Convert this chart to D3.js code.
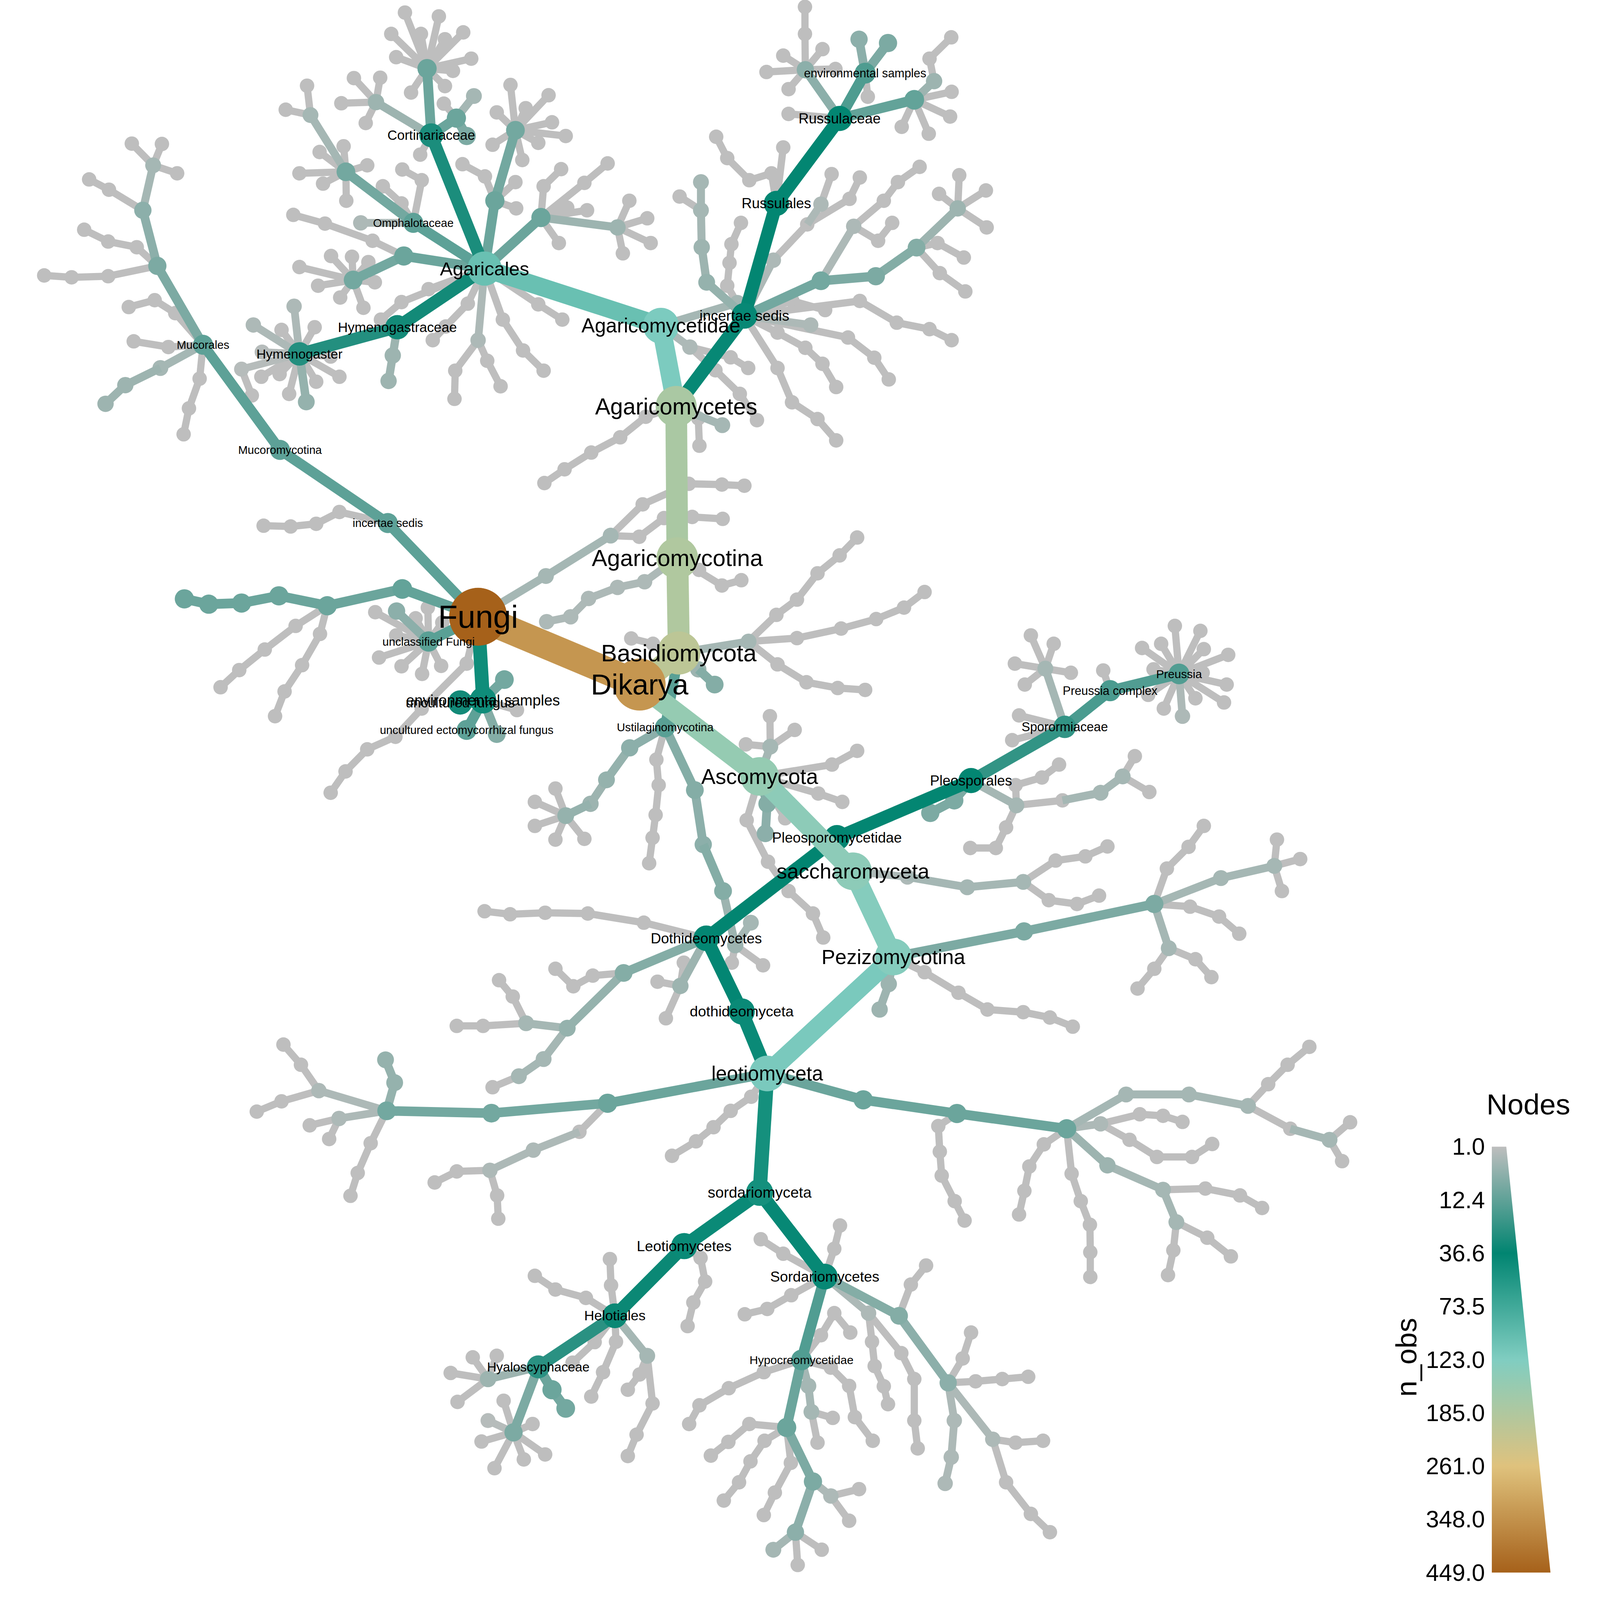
<!DOCTYPE html>
<html>
<head>
<meta charset="utf-8">
<script src="https://cdn.jsdelivr.net/npm/d3@7"></script>
<style>
  html, body { margin: 0; padding: 0; background: #ffffff; overflow: hidden; }
  svg { display: block; width: 100vw; height: 100vh; }
  text { font-family: "Liberation Sans", Arial, sans-serif; }
</style>
</head>
<body>
<svg id="chart"></svg>
<script>
// rows: [id, parent, layoutX, layoutY, n_obs, label]
var coreNodes = [
  ["fungi", null, 1255, 1619, 449, "Fungi"],
  ["dika", "fungi", 1679, 1797, 340, "Dikarya"],
  ["basi", "dika", 1782, 1714, 205, "Basidiomycota"],
  ["agmc", "basi", 1778, 1465, 185, "Agaricomycotina"],
  ["agmy", "agmc", 1775, 1067, 178, "Agaricomycetes"],
  ["agdae", "agmy", 1735, 855, 120, "Agaricomycetidae"],
  ["agal", "agdae", 1272, 705, 105, "Agaricales"],
  ["ais", "agmy", 1954, 829, 40, "incertae sedis"],
  ["russ", "ais", 2038, 534, 36, "Russulales"],
  ["rusc", "russ", 2204, 311, 36, "Russulaceae"],
  ["renv", "rusc", 2271, 192, 17, "environmental samples"],
  ["usti", "basi", 1746, 1909, 14, "Ustilaginomycotina"],
  ["asco", "dika", 1994, 2038, 150, "Ascomycota"],
  ["sacc", "asco", 2239, 2287, 140, "saccharomyceta"],
  ["pezi", "sacc", 2345, 2512, 130, "Pezizomycotina"],
  ["leot", "pezi", 2014, 2818, 118, "leotiomyceta"],
  ["dothm", "leot", 1947, 2655, 42, "dothideomyceta"],
  ["doth", "dothm", 1854, 2463, 38, "Dothideomycetes"],
  ["pleom", "doth", 2197, 2199, 37, "Pleosporomycetidae"],
  ["pleo", "pleom", 2549, 2049, 36, "Pleosporales"],
  ["spor", "pleo", 2795, 1908, 24, "Sporormiaceae"],
  ["prec", "spor", 2914, 1813, 18, "Preussia complex"],
  ["preu", "prec", 3095, 1769, 16, "Preussia"],
  ["sord", "leot", 1994, 3130, 48, "sordariomyceta"],
  ["leoc", "sord", 1796, 3271, 42, "Leotiomycetes"],
  ["helo", "leoc", 1614, 3454, 34, "Helotiales"],
  ["hyal", "helo", 1413, 3588, 26, "Hyaloscyphaceae"],
  ["sorc", "sord", 2165, 3351, 40, "Sordariomycetes"],
  ["hypo", "sorc", 2104, 3570, 16, "Hypocreomycetidae"],
  ["mis", "fungi", 1018, 1373, 13, "incertae sedis"],
  ["mucm", "mis", 735, 1181, 13, "Mucoromycotina"],
  ["muco", "mucm", 533, 905, 13, "Mucorales"],
  ["ucf", "fungi", 1125, 1684, 14, "unclassified Fungi"],
  ["fenv", "fungi", 1268, 1838, 45, "environmental samples"],
  ["uf", "fenv", 1208, 1844, 32, "uncultured fungus"],
  ["uef", "fenv", 1225, 1916, 13, "uncultured ectomycorrhizal fungus"],
  ["cort", "agal", 1132, 355, 30, "Cortinariaceae"],
  ["omph", "agal", 1085, 585, 13, "Omphalotaceae"],
  ["hyme", "agal", 1043, 859, 32, "Hymenogastraceae"],
  ["hg", "hyme", 786, 929, 28, "Hymenogaster"]
];

var agaricalesNodes = [
  ["c1", "cort", 1121, 180, 11],
  ["c1a", "c1", 1063, 33, 1], ["c1b", "c1", 1152, 43, 1], ["c1c", "c1", 1027, 89, 1],
  ["c1d", "c1", 1105, 89, 1], ["c1e", "c1", 1168, 103, 1], ["c1f", "c1", 1216, 85, 1],
  ["c1g", "c1", 1040, 150, 1], ["c1h", "c1", 1237, 154, 1], ["c1i", "c1", 1189, 186, 1],
  ["c1j", "c1", 1079, 243, 1], ["c1k", "c1", 1168, 226, 1],
  ["c2", "cort", 1198, 310, 11], ["c2a", "c2", 1244, 252, 4], ["c2b", "c2", 1225, 357, 9], ["c2c", "c2", 1165, 272, 1],
  ["c3", "cort", 987, 268, 5], ["c3a", "c3", 929, 205, 1], ["c3b", "c3", 998, 204, 1],
  ["c3c", "c3", 896, 271, 1], ["c3d", "c3", 960, 323, 1],
  ["c4", "cort", 1103, 406, 1],
  ["o1", "omph", 908, 451, 10], ["o1a", "o1", 902, 384, 1], ["o1b", "o1", 839, 399, 1],
  ["o1c", "o1", 786, 455, 1], ["o1d", "o1", 848, 482, 1], ["o1e", "o1", 909, 527, 1],
  ["o1f", "o1", 964, 434, 1], ["o1g", "o1", 815, 302, 4], ["o1h", "o1g", 806, 225, 1], ["o1i", "o1g", 750, 288, 1],
  ["o2", "omph", 947, 585, 3], ["o3", "omph", 1054, 534, 1], ["o3a", "o3", 1005, 489, 1],
  ["o4", "omph", 1107, 473, 1], ["o4a", "o4", 1056, 445, 1],
  ["a3", "agal", 1060, 672, 11], ["a3h", "a3", 927, 735, 10],
  ["a3h1", "a3h", 786, 701, 1], ["a3h2", "a3h", 835, 750, 1], ["a3h3", "a3h", 893, 781, 1], ["a3h4", "a3h", 954, 808, 1],
  ["a3h5", "a3h", 984, 741, 1], ["a3h6", "a3h", 967, 688, 1], ["a3h7", "a3h", 924, 674, 1], ["a3h8", "a3h", 869, 672, 1],
  ["a3i", "a3", 978, 632, 1], ["a3j", "a3i", 853, 587, 1], ["a3k", "a3j", 770, 564, 1],
  ["hg1", "hg", 772, 804, 3], ["hg2", "hg", 665, 853, 3], ["hg3", "hg", 739, 866, 1], ["hg4", "hg", 826, 859, 1],
  ["hg5", "hg", 688, 924, 2], ["hg6", "hg", 634, 969, 2], ["hg7", "hg6", 661, 1038, 1], ["hg8", "hg", 686, 989, 1],
  ["hg9", "hg", 734, 982, 1], ["hg10", "hg", 759, 1034, 1], ["hg11", "hg", 804, 1055, 6], ["hg12", "hg", 830, 1002, 1],
  ["hg13", "hg", 891, 989, 1], ["hg14", "hg", 868, 936, 1],
  ["h2", "hyme", 1031, 933, 5], ["h2a", "h2", 1020, 1000, 5],
  ["ag4", "agal", 1054, 793, 1], ["ag4a", "ag4", 1000, 839, 1],
  ["ag5", "agal", 1255, 893, 3], ["ag5a", "ag5", 1195, 973, 1], ["ag5b", "ag5a", 1193, 1047, 1],
  ["ag5c", "ag5", 1279, 947, 1], ["ag5d", "ag5c", 1314, 1014, 1],
  ["ag6", "agal", 1228, 797, 1], ["ag6a", "ag6", 1170, 857, 1], ["ag6b", "ag6a", 1136, 893, 1],
  ["ag7", "agal", 1320, 839, 1], ["ag7a", "ag7", 1373, 920, 1], ["ag7b", "ag7a", 1427, 973, 1],
  ["ag8", "agal", 1125, 759, 1],
  ["ag9", "agal", 1299, 527, 11], ["ag9h", "ag9", 1353, 342, 10],
  ["ag9h1", "ag9h", 1340, 223, 1], ["ag9h2", "ag9h", 1304, 295, 1], ["ag9h3", "ag9h", 1293, 380, 1],
  ["ag9h4", "ag9h", 1371, 420, 1], ["ag9h5", "ag9h", 1380, 284, 1], ["ag9h6", "ag9h", 1440, 250, 1],
  ["ag9h7", "ag9h", 1449, 321, 1], ["ag9h8", "ag9h", 1485, 357, 1], ["ag9h9", "ag9h", 1413, 375, 1],
  ["ag9a", "ag9", 1353, 478, 1], ["ag9b", "ag9", 1355, 547, 1], ["ag9c", "ag9", 1273, 463, 1], ["ag9d", "ag9c", 1214, 431, 1],
  ["ag10", "agal", 1420, 571, 11], ["ag10h", "ag10", 1621, 597, 5],
  ["ag10h1", "ag10h", 1652, 527, 1], ["ag10h2", "ag10h", 1699, 573, 1], ["ag10h3", "ag10h", 1708, 638, 1], ["ag10h4", "ag10h", 1635, 665, 1],
  ["ag10a", "ag10", 1427, 489, 1], ["ag10b", "ag10a", 1473, 444, 1], ["ag10c", "ag10", 1534, 480, 1],
  ["ag10d", "ag10c", 1595, 429, 1], ["ag10e", "ag10", 1489, 545, 1], ["ag10f", "ag10", 1541, 552, 1], ["ag10g", "ag10", 1467, 638, 1],
  ["ag11", "agal", 1413, 799, 1], ["ag11a", "ag11", 1476, 839, 1]
];

var agaricomycetesNodes = [
  ["d1", "agdae", 1936, 795, 4],
  ["d2", "agdae", 1811, 911, 3], ["d2a", "d2", 1878, 972, 1], ["d2b", "d2a", 1942, 1034, 1], ["d2c", "d2b", 1987, 1103, 1],
  ["d2d", "d2", 1918, 938, 1], ["d2e", "d2d", 1964, 966, 1],
  ["m1", "agmy", 1833, 1098, 1], ["m1a", "m1", 1836, 1170, 1], ["m2", "agmy", 1896, 1116, 4],
  ["m3", "agmy", 1695, 1094, 1], ["m3a", "m3", 1628, 1148, 1], ["m3b", "m3a", 1552, 1188, 1],
  ["m3c", "m3b", 1482, 1232, 1], ["m3d", "m3c", 1429, 1268, 1],
  ["k1", "agmc", 1692, 1527, 3], ["k1a", "k1", 1621, 1542, 3], ["k1b", "k1a", 1545, 1571, 3],
  ["k1c", "k1b", 1498, 1619, 3], ["k1d", "k1c", 1435, 1632, 3],
  ["k2", "agmc", 1835, 1496, 1], ["k3", "agmc", 1895, 1537, 1], ["k3a", "k3", 1946, 1523, 1],
  ["i1", "ais", 1855, 741, 6], ["i1a", "i1", 1842, 649, 5], ["i1b", "i1a", 1840, 552, 4],
  ["i1c", "i1b", 1840, 478, 4], ["i1d", "i1b", 1784, 516, 1],
  ["i2", "ais", 1909, 750, 1], ["i2a", "i2", 1915, 690, 1], ["i2b", "i2a", 1920, 641, 1], ["i2c", "i2b", 1945, 585, 1],
  ["i3", "ais", 2030, 683, 3], ["i3a", "i3", 2119, 589, 1], ["i3b", "i3a", 2230, 522, 1], ["i3c", "i3b", 2257, 466, 1],
  ["i3d", "i3a", 2155, 536, 3], ["i3e", "i3d", 2183, 457, 1],
  ["i4", "ais", 2155, 737, 10], ["i4a", "i4", 2299, 725, 9], ["i4b", "i4a", 2406, 650, 8], ["i4c", "i4b", 2514, 547, 5],
  ["i4c1", "i4c", 2518, 460, 1], ["i4c2", "i4c", 2465, 509, 1], ["i4c3", "i4c", 2588, 500, 1], ["i4c4", "i4c", 2590, 597, 1],
  ["i4d", "i4b", 2461, 638, 1], ["i4d1", "i4d", 2530, 676, 1], ["i4e", "i4b", 2467, 717, 1], ["i4e1", "i4e", 2534, 765, 1],
  ["i4f", "i4", 2241, 594, 3], ["i4f1", "i4f", 2320, 527, 1], ["i4f2", "i4f1", 2357, 478, 1], ["i4f3", "i4f2", 2414, 438, 1],
  ["i4g", "i4f", 2305, 632, 1], ["i4g1", "i4g", 2342, 585, 1],
  ["i5", "ais", 2080, 790, 1], ["i5a", "i5", 2166, 814, 1], ["i6", "ais", 2128, 853, 3],
  ["i7", "ais", 2257, 790, 1], ["i7a", "i7", 2354, 847, 1], ["i7b", "i7a", 2440, 864, 1], ["i7c", "i7b", 2498, 893, 1],
  ["i8", "ais", 2226, 886, 1], ["i8a", "i8", 2295, 939, 1], ["i8b", "i8a", 2333, 996, 1],
  ["i9", "ais", 2041, 873, 1], ["i9a", "i9", 2114, 913, 1], ["i9b", "i9a", 2159, 955, 1], ["i9c", "i9b", 2195, 1016, 1],
  ["i10", "ais", 2041, 966, 1], ["i10a", "i10", 2079, 1056, 1], ["i10b", "i10a", 2146, 1100, 1], ["i10c", "i10b", 2195, 1156, 1],
  ["r1", "russ", 2025, 455, 1], ["r1a", "r1", 1967, 473, 1], ["r1b", "r1a", 1909, 415, 1], ["r1c", "r1b", 1880, 359, 1],
  ["r2", "russ", 2056, 387, 1],
  ["r3", "rusc", 2114, 183, 7], ["r3a", "r3", 2113, 89, 1], ["r3b", "r3a", 2113, 18, 1], ["r3c", "r3", 2056, 146, 1],
  ["r3d", "r3", 2159, 129, 1], ["r3e", "r3", 2012, 189, 1], ["r3f", "r3", 2070, 234, 1], ["r3g", "r3", 2193, 181, 1],
  ["r4", "rusc", 2400, 262, 12], ["r4a", "r4", 2452, 213, 5], ["r4b", "r4a", 2440, 154, 1], ["r4c", "r4b", 2497, 98, 1],
  ["r4d", "r4", 2498, 241, 1], ["r4e", "r4", 2494, 306, 1], ["r4f", "r4", 2438, 351, 1], ["r4g", "r4", 2367, 333, 1],
  ["r5", "rusc", 2070, 299, 1],
  ["r6", "renv", 2255, 103, 7], ["r7", "renv", 2331, 113, 9], ["r8", "renv", 2278, 254, 1]
];

var basalFungiNodes = [
  ["f1", "mis", 891, 1344, 1], ["f1a", "f1", 830, 1375, 1], ["f1b", "f1a", 763, 1382, 1], ["f1c", "f1b", 692, 1380, 1],
  ["mu1", "muco", 413, 698, 9], ["mu1a", "mu1", 375, 552, 7], ["mu1b", "mu1a", 402, 434, 4],
  ["mu1c", "mu1b", 346, 377, 1], ["mu1d", "mu1b", 425, 378, 1], ["mu1e", "mu1b", 465, 455, 1],
  ["mu1f", "mu1a", 286, 498, 1], ["mu1g", "mu1f", 234, 471, 1],
  ["mu1h", "mu1", 359, 649, 1], ["mu1i", "mu1h", 284, 634, 1], ["mu1j", "mu1i", 221, 603, 1],
  ["mu1k", "mu1", 284, 725, 1], ["mu1l", "mu1k", 188, 728, 1], ["mu1m", "mu1l", 116, 723, 1],
  ["mu2", "muco", 421, 966, 4], ["mu2a", "mu2", 329, 1011, 5], ["mu2b", "mu2a", 277, 1060, 5],
  ["mu3", "muco", 442, 911, 1], ["mu3a", "mu3", 351, 896, 1],
  ["mu4", "muco", 460, 822, 1], ["mu4a", "mu4", 406, 788, 1], ["mu4b", "mu4a", 338, 806, 1],
  ["mu5", "muco", 524, 994, 1], ["mu5a", "mu5", 496, 1072, 1], ["mu5b", "mu5a", 482, 1140, 1],
  ["fl1", "fungi", 1056, 1546, 12], ["fl2", "fl1", 859, 1590, 11], ["fl3", "fl2", 732, 1564, 11],
  ["fl4", "fl3", 634, 1583, 11], ["fl5", "fl4", 548, 1586, 11], ["fl6", "fl5", 484, 1572, 11],
  ["fl7", "fl2", 776, 1643, 1], ["fl7a", "fl7", 695, 1705, 1], ["fl7b", "fl7a", 628, 1759, 1], ["fl7c", "fl7b", 579, 1804, 1],
  ["fl8", "fl2", 840, 1664, 1], ["fl8a", "fl8", 793, 1746, 1], ["fl8b", "fl8a", 747, 1815, 1], ["fl8c", "fl8b", 722, 1880, 1],
  ["u1", "ucf", 1041, 1604, 7], ["u2", "ucf", 985, 1607, 1], ["u3", "ucf", 1091, 1623, 1], ["u4", "ucf", 1123, 1595, 1],
  ["u5", "ucf", 1161, 1634, 1], ["u6", "ucf", 995, 1726, 1], ["u7", "ucf", 1054, 1749, 1], ["u8", "ucf", 1108, 1769, 1],
  ["u9", "ucf", 1158, 1748, 1], ["u10", "ucf", 1040, 1668, 1],
  ["e1", "fenv", 1304, 1927, 8], ["e2", "fenv", 1324, 1784, 10], ["e3", "fenv", 1357, 1864, 1],
  ["fd1", "fungi", 1225, 1742, 1], ["fd2", "fd1", 1107, 1860, 1], ["fd3", "fd2", 1038, 1934, 1],
  ["fd4", "fd3", 964, 1967, 1], ["fd5", "fd4", 907, 2025, 1], ["fd6", "fd5", 868, 2081, 1],
  ["fu1", "fungi", 1433, 1512, 4], ["fu2", "fu1", 1603, 1406, 4], ["fu3", "fu2", 1687, 1324, 1],
  ["fu4", "fu3", 1808, 1270, 1], ["fu5", "fu4", 1895, 1272, 1], ["fu6", "fu5", 1954, 1275, 1],
  ["fu7", "fu2", 1678, 1409, 1], ["fu8", "fu7", 1743, 1360, 1], ["fu9", "fu8", 1817, 1357, 1], ["fu10", "fu9", 1897, 1362, 1]
];

var basidioNodes = [
  ["b1", "basi", 1965, 1684, 4], ["b1a", "b1", 2092, 1675, 1], ["b1b", "b1a", 2208, 1650, 1], ["b1c", "b1b", 2300, 1625, 1],
  ["b1d", "b1c", 2373, 1595, 1], ["b1e", "b1d", 2427, 1554, 1],
  ["b1f", "b1", 2038, 1614, 1], ["b1g", "b1f", 2092, 1574, 1], ["b1h", "b1g", 2146, 1505, 1], ["b1i", "b1h", 2204, 1458, 1], ["b1j", "b1i", 2250, 1411, 1],
  ["b1k", "b1", 2041, 1744, 1], ["b1l", "b1k", 2117, 1791, 1], ["b1m", "b1l", 2199, 1806, 1], ["b1n", "b1m", 2271, 1811, 1],
  ["b2", "basi", 1833, 1757, 5], ["b2a", "b2", 1876, 1797, 8],
  ["b3", "basi", 1714, 1690, 1], ["b3a", "b3", 1657, 1676, 1],
  ["us1", "usti", 1653, 1963, 7], ["us2", "us1", 1592, 2047, 6], ["us3", "us2", 1550, 2110, 5], ["us4", "us3", 1485, 2141, 6],
  ["us4a", "us4", 1458, 2070, 1], ["us4b", "us4", 1404, 2105, 1], ["us4c", "us4", 1404, 2168, 1],
  ["us4d", "us4", 1458, 2204, 1], ["us4e", "us4", 1534, 2202, 1],
  ["us5", "usti", 1723, 1994, 1], ["us5a", "us5", 1729, 2061, 1], ["us5b", "us5a", 1721, 2139, 1],
  ["us5c", "us5b", 1713, 2199, 1], ["us5d", "us5c", 1704, 2266, 1],
  ["us6", "usti", 1824, 2074, 8], ["us6a", "us6", 1846, 2217, 7], ["us6b", "us6a", 1898, 2339, 8], ["us6c", "us6b", 1930, 2481, 5],
  ["us6d", "us6c", 1921, 2527, 1], ["us6e", "us6c", 1971, 2422, 4], ["us6f", "us6c", 2003, 2534, 1]
];

var ascoNodes = [
  ["as1", "asco", 2022, 1960, 4], ["as1a", "as1", 2021, 1880, 1], ["as1b", "as1", 2086, 1916, 1], ["as1c", "as1", 1958, 1954, 1],
  ["as2", "asco", 2014, 2110, 8], ["as2a", "as2", 2009, 2188, 7], ["as3", "asco", 2061, 2148, 1],
  ["as4", "asco", 2184, 2007, 1], ["as4a", "as4", 2250, 1971, 1], ["as5", "asco", 2148, 2083, 1], ["as5a", "as5", 2211, 2105, 1],
  ["as6", "asco", 1960, 2153, 1], ["as6a", "as6", 2016, 2262, 1], ["as6b", "as6a", 2070, 2339, 1],
  ["as6c", "as6b", 2134, 2398, 1], ["as6d", "as6c", 2161, 2461, 1],
  ["sa1", "sacc", 2382, 2302, 3], ["sa2", "sa1", 2539, 2329, 4], ["sa3", "sa2", 2686, 2315, 4],
  ["sa4", "sa3", 2771, 2259, 1], ["sa5", "sa4", 2849, 2248, 1], ["sa6", "sa5", 2907, 2222, 1],
  ["sa7", "sa3", 2753, 2363, 1], ["sa8", "sa7", 2827, 2373, 1], ["sa9", "sa8", 2885, 2351, 1],
  ["pl1", "pleo", 2668, 2114, 4], ["pl1a", "pl1", 2641, 2172, 1], ["pl1b", "pl1a", 2614, 2226, 1], ["pl1c", "pl1b", 2547, 2226, 1],
  ["pl1d", "pl1", 2666, 2061, 1], ["pl1e", "pl1d", 2735, 2041, 1], ["pl1f", "pl1e", 2780, 2007, 1],
  ["pl1g", "pl1", 2789, 2101, 1], ["pl1h", "pl1g", 2889, 2081, 4], ["pl1i", "pl1h", 2947, 2038, 4],
  ["pl1j", "pl1i", 2979, 1985, 1], ["pl1k", "pl1i", 3017, 2079, 1],
  ["pl2", "pleo", 2505, 2101, 9], ["pl2a", "pl2", 2442, 2134, 9],
  ["sp1", "spor", 2744, 1755, 4], ["sp1a", "sp1", 2706, 1668, 1], ["sp1b", "sp1", 2766, 1690, 1],
  ["sp1c", "sp1", 2664, 1742, 1], ["sp1d", "sp1", 2690, 1797, 1], ["sp1e", "sp1", 2811, 1766, 1],
  ["sp2", "spor", 2675, 1878, 1], ["sp3", "spor", 2657, 1943, 1],
  ["pc1", "prec", 2896, 1760, 1],
  ["pr1", "preu", 3084, 1643, 1], ["pr2", "preu", 3151, 1656, 1], ["pr3", "preu", 3048, 1690, 1], ["pr4", "preu", 2998, 1701, 1],
  ["pr5", "preu", 3160, 1704, 1], ["pr6", "preu", 3224, 1719, 1], ["pr7", "preu", 3028, 1757, 1], ["pr8", "preu", 3220, 1797, 1],
  ["pr9", "preu", 3213, 1844, 1], ["pr10", "preu", 3138, 1833, 1], ["pr11", "preu", 3055, 1860, 1], ["pr12", "preu", 3104, 1880, 3],
  ["pr13", "preu", 3014, 1824, 1], ["pr14", "preu", 3157, 1766, 1],
  ["pz1", "pezi", 2688, 2445, 9], ["pz2", "pz1", 3030, 2373, 9],
  ["pz2a", "pz2", 3063, 2280, 1], ["pz2b", "pz2a", 3120, 2223, 1], ["pz2c", "pz2b", 3160, 2168, 1],
  ["pz3", "pz2", 3205, 2305, 4], ["pz3a", "pz3", 3345, 2273, 4], ["pz3b", "pz3a", 3352, 2204, 1],
  ["pz3c", "pz3a", 3413, 2255, 1], ["pz3d", "pz3a", 3365, 2339, 1],
  ["pz4", "pz2", 3124, 2380, 1], ["pz4a", "pz4", 3200, 2406, 1], ["pz4b", "pz4a", 3253, 2451, 1],
  ["pz5", "pz2", 3068, 2489, 4], ["pz5a", "pz5", 3138, 2518, 1], ["pz5b", "pz5a", 3180, 2565, 1],
  ["pz5c", "pz5", 3030, 2543, 1], ["pz5d", "pz5c", 2986, 2595, 1],
  ["pz6", "pezi", 2427, 2552, 1], ["pz6a", "pz6", 2516, 2606, 1], ["pz6b", "pz6a", 2592, 2650, 1],
  ["pz6c", "pz6b", 2686, 2657, 1], ["pz6d", "pz6c", 2756, 2671, 1], ["pz6e", "pz6d", 2816, 2695, 1],
  ["pz7", "pezi", 2333, 2583, 5], ["pz7a", "pz7", 2309, 2650, 5]
];

var dothideoNodes = [
  ["do1", "doth", 1690, 2422, 1], ["do1a", "do1", 1543, 2398, 1], ["do1b", "do1a", 1431, 2396, 1],
  ["do1c", "do1b", 1339, 2400, 1], ["do1d", "do1c", 1272, 2392, 1],
  ["do2", "doth", 1637, 2554, 8], ["do2a", "do2", 1489, 2699, 6], ["do2b", "do2a", 1381, 2686, 4],
  ["do2c", "do2b", 1268, 2693, 1], ["do2d", "do2c", 1199, 2693, 1], ["do2e", "do2b", 1346, 2616, 1], ["do2f", "do2e", 1310, 2573, 1],
  ["do2g", "do2a", 1427, 2780, 4], ["do2h", "do2g", 1362, 2825, 4], ["do2i", "do2h", 1293, 2854, 1],
  ["do2j", "do2", 1556, 2561, 1], ["do2k", "do2j", 1505, 2589, 1], ["do2l", "do2k", 1458, 2543, 1],
  ["do3", "doth", 1786, 2588, 5], ["do3a", "do3", 1726, 2577, 1], ["do3b", "do3", 1748, 2673, 1], ["do3c", "do3", 1795, 2527, 1]
];

var leotioNodes = [
  ["lr1", "leot", 2266, 2887, 11], ["lr2", "lr1", 2512, 2923, 11], ["lr3", "lr2", 2800, 2963, 11],
  ["lr2a", "lr2", 2463, 2956, 1], ["lr2b", "lr2a", 2467, 3023, 1], ["lr2c", "lr2b", 2472, 3086, 1],
  ["lr2d", "lr2c", 2506, 3153, 1], ["lr2e", "lr2d", 2532, 3204, 1],
  ["lr3a", "lr3", 2740, 3004, 1], ["lr3b", "lr3a", 2702, 3062, 1], ["lr3c", "lr3b", 2689, 3126, 1], ["lr3d", "lr3c", 2675, 3188, 1],
  ["lr4", "lr3", 2956, 2873, 4], ["lr4a", "lr4", 3121, 2873, 4], ["lr4b", "lr4a", 3276, 2903, 4],
  ["lr4c", "lr4b", 3329, 2846, 1], ["lr4d", "lr4c", 3380, 2795, 1], ["lr4e", "lr4d", 3437, 2748, 1],
  ["lr4f", "lr4b", 3387, 2963, 1], ["lr4g", "lr4f", 3490, 2992, 4], ["lr4h", "lr4g", 3544, 2946, 1], ["lr4i", "lr4g", 3523, 3048, 1],
  ["lr5", "lr3", 2889, 2950, 3], ["lr5a", "lr5", 2992, 2925, 1], ["lr5b", "lr5a", 3053, 2929, 1], ["lr5c", "lr5b", 3104, 2945, 1],
  ["lr5d", "lr5", 2965, 2992, 1], ["lr5e", "lr5d", 3037, 3037, 1], ["lr5f", "lr5e", 3129, 3037, 1], ["lr5g", "lr5f", 3182, 3003, 1],
  ["lr6", "lr3", 2907, 3059, 5], ["lr6a", "lr6", 3053, 3123, 4], ["lr6b", "lr6a", 3164, 3120, 1],
  ["lr6c", "lr6b", 3255, 3138, 1], ["lr6d", "lr6c", 3313, 3171, 1],
  ["lr6e", "lr6a", 3088, 3208, 4], ["lr6f", "lr6e", 3169, 3249, 1], ["lr6g", "lr6f", 3231, 3298, 1],
  ["lr6h", "lr6e", 3080, 3282, 1], ["lr6i", "lr6h", 3066, 3347, 1],
  ["lr7", "lr3", 2813, 3081, 1], ["lr7a", "lr7", 2837, 3153, 1], ["lr7b", "lr7a", 2861, 3215, 1],
  ["lr7c", "lr7b", 2862, 3287, 1], ["lr7d", "lr7c", 2862, 3352, 1],
  ["ll1", "leot", 1595, 2896, 11], ["ll2", "ll1", 1290, 2922, 10], ["ll3", "ll2", 1015, 2916, 10],
  ["ll1a", "ll1", 1521, 2971, 1], ["ll1b", "ll1a", 1400, 3019, 3], ["ll1c", "ll1b", 1286, 3072, 3],
  ["ll1d", "ll1c", 1199, 3075, 1], ["ll1e", "ll1d", 1141, 3104, 1], ["ll1f", "ll1c", 1305, 3138, 1], ["ll1g", "ll1f", 1308, 3199, 1],
  ["ll3a", "ll3", 1036, 2842, 6], ["ll3b", "ll3a", 1012, 2782, 6],
  ["ll3c", "ll3", 837, 2863, 3], ["ll3d", "ll3c", 739, 2891, 1], ["ll3e", "ll3d", 674, 2918, 1],
  ["ll3f", "ll3c", 790, 2795, 1], ["ll3g", "ll3f", 744, 2742, 1],
  ["ll3h", "ll3", 890, 2936, 3], ["ll3i", "ll3h", 813, 2954, 1], ["ll3j", "ll3h", 864, 2990, 1],
  ["ll3k", "ll3", 973, 3001, 1], ["ll3l", "ll3k", 939, 3079, 1], ["ll3m", "ll3l", 920, 3139, 1],
  ["lc1", "leot", 1972, 2879, 1], ["lc1a", "lc1", 1918, 2916, 1], ["lc1b", "lc1a", 1873, 2959, 1],
  ["lc1c", "lc1b", 1827, 2996, 1], ["lc1d", "lc1c", 1764, 3034, 1]
];

var sordarioNodes = [
  ["le1", "leoc", 1839, 3302, 1], ["le1a", "le1", 1851, 3364, 1], ["le1b", "le1a", 1820, 3419, 1], ["le1c", "le1b", 1805, 3481, 1],
  ["he1", "helo", 1604, 3374, 1], ["he1a", "he1", 1601, 3305, 1],
  ["he2", "helo", 1538, 3407, 1], ["he2a", "he2", 1458, 3385, 1], ["he2b", "he2a", 1404, 3349, 1],
  ["he3", "helo", 1617, 3522, 1], ["he3a", "he3", 1583, 3602, 1], ["he3b", "he3a", 1552, 3666, 1],
  ["he4", "helo", 1561, 3523, 1], ["he4a", "he4", 1503, 3577, 1],
  ["he5", "helo", 1699, 3559, 4], ["he5a", "he5", 1679, 3608, 1], ["he5b", "he5a", 1648, 3648, 1],
  ["he5c", "he5", 1713, 3684, 1], ["he5d", "he5c", 1671, 3766, 1], ["he5e", "he5d", 1648, 3822, 1],
  ["hy1", "hyal", 1449, 3648, 11], ["hy1a", "hy1", 1485, 3697, 10],
  ["hy2", "hyal", 1281, 3620, 5], ["hy2a", "hy2", 1183, 3604, 1], ["hy2b", "hy2", 1241, 3563, 1],
  ["hy2c", "hy2", 1304, 3559, 1], ["hy2d", "hy2", 1201, 3680, 1],
  ["hy3", "hyal", 1348, 3760, 9], ["hy3a", "hy3", 1322, 3677, 1], ["hy3b", "hy3", 1281, 3729, 2], ["hy3c", "hy3", 1264, 3784, 1],
  ["hy3d", "hy3", 1298, 3854, 1], ["hy3e", "hy3", 1375, 3831, 1], ["hy3f", "hy3", 1398, 3738, 1], ["hy3g", "hy3", 1431, 3818, 1],
  ["so1", "sorc", 2360, 3454, 8], ["so1a", "so1", 2489, 3630, 7], ["so1b", "so1", 2391, 3372, 1], ["so1c", "so1b", 2431, 3322, 1],
  ["so1d", "so1a", 2561, 3626, 1], ["so1e", "so1d", 2631, 3620, 1], ["so1f", "so1e", 2699, 3614, 1],
  ["so1g", "so1a", 2505, 3729, 3], ["so1h", "so1g", 2497, 3825, 3], ["so1i", "so1h", 2481, 3894, 3],
  ["so1j", "so1a", 2606, 3778, 3], ["so1k", "so1j", 2666, 3787, 1], ["so1l", "so1k", 2738, 3782, 1],
  ["so1m", "so1j", 2641, 3891, 1], ["so1n", "so1m", 2706, 3974, 1], ["so1o", "so1n", 2756, 4022, 1],
  ["so1p", "so1a", 2527, 3566, 1], ["so1q", "so1p", 2549, 3498, 1],
  ["so2", "sorc", 2190, 3278, 1], ["so2a", "so2", 2205, 3217, 1],
  ["so3", "sorc", 2056, 3291, 1], ["so3a", "so3", 1997, 3253, 1],
  ["so4", "sorc", 2077, 3400, 1], ["so4a", "so4", 2014, 3436, 1], ["so4b", "so4a", 1955, 3450, 1],
  ["so5", "sorc", 2280, 3447, 3], ["so5a", "so5", 2289, 3522, 1], ["so5b", "so5a", 2296, 3586, 1],
  ["so5c", "so5b", 2320, 3639, 1], ["so5d", "so5c", 2331, 3686, 1],
  ["so5e", "so5", 2366, 3552, 1], ["so5f", "so5e", 2400, 3620, 1], ["so5g", "so5f", 2400, 3729, 1], ["so5h", "so5g", 2409, 3802, 1],
  ["hp1", "hypo", 2065, 3747, 11], ["hp1a", "hp1", 2134, 3889, 9], ["hp1b", "hp1a", 2088, 4022, 7],
  ["hp1c", "hp1b", 2030, 4068, 4], ["hp1d", "hp1b", 2094, 4108, 1], ["hp1e", "hp1b", 2157, 4068, 1],
  ["hp1f", "hp1a", 2181, 3927, 3], ["hp1g", "hp1f", 2255, 3909, 1], ["hp1h", "hp1f", 2229, 3992, 1],
  ["hp1i", "hp1", 2076, 3840, 1], ["hp1j", "hp1i", 2034, 3918, 1], ["hp1k", "hp1j", 2005, 3977, 1],
  ["hp1l", "hp1", 2007, 3782, 1], ["hp1m", "hp1l", 1970, 3836, 1], ["hp1n", "hp1m", 1940, 3891, 1], ["hp1o", "hp1n", 1900, 3939, 1],
  ["hp1p", "hp1", 1967, 3738, 1], ["hp1q", "hp1p", 1912, 3785, 1], ["hp1r", "hp1q", 1866, 3821, 1],
  ["hp2", "hypo", 2122, 3638, 4], ["hp2a", "hp2", 2130, 3706, 4], ["hp2b", "hp2a", 2186, 3722, 1], ["hp2c", "hp2a", 2146, 3787, 1],
  ["hp3", "hypo", 2155, 3505, 1], ["hp3a", "hp3", 2190, 3447, 1], ["hp3b", "hp3a", 2232, 3498, 1],
  ["hp4", "hypo", 2005, 3602, 1], ["hp4a", "hp4", 1913, 3644, 1], ["hp4b", "hp4a", 1836, 3689, 1], ["hp4c", "hp4b", 1809, 3738, 1],
  ["hp5", "hypo", 2181, 3590, 1], ["hp5a", "hp5", 2229, 3638, 1], ["hp5b", "hp5a", 2244, 3720, 1], ["hp5c", "hp5b", 2291, 3782, 1]
];

var legendTicks = [1.0, 12.4, 36.6, 73.5, 123.0, 185.0, 261.0, 348.0, 449.0];
var paletteColors = ["#BEBEBE", "#018571", "#80CDC1", "#DFC27D", "#A6611A"];
var legendTitle = "Nodes";
var legendAxisTitle = "n_obs";

var width = 4200, height = 4200;

// the drawing is defined on a 4200 x 4200 canvas and fitted to the window
var svg = d3.select("#chart")
  .attr("viewBox", "0 0 " + width + " " + height)
  .attr("preserveAspectRatio", "xMidYMid meet");

svg.append("rect").attr("width", width).attr("height", height).attr("fill", "#ffffff");

var rows = [].concat(coreNodes, agaricalesNodes, agaricomycetesNodes, basalFungiNodes,
                     basidioNodes, ascoNodes, dothideoNodes, leotioNodes, sordarioNodes);

var nodes = rows.map(function(r, i) {
  return {id: r[0], parent: r[1], x: r[2], y: r[3], n: r[4], label: r[5] || null, order: i};
});
var byId = new Map(nodes.map(function(d) { return [d.id, d]; }));

// layout space -> canvas
var xScale = d3.scaleLinear().domain([0, 4200]).range([0, width]);
var yScale = d3.scaleLinear().domain([0, 4200]).range([0, height]);

// n_obs -> position on the legend (0..1), piecewise through the legend ticks
var tScale = d3.scaleLinear()
  .domain(legendTicks)
  .range(legendTicks.map(function(d, i) { return i / (legendTicks.length - 1); }))
  .clamp(true);

var colorScale = d3.scaleLinear()
  .domain([0, 0.25, 0.5, 0.75, 1])
  .range(paletteColors)
  .interpolate(d3.interpolateRgb);

var radius = d3.scaleLinear().domain([0, 1]).range([19, 76]);
var edgeWidth = d3.scaleLinear().domain([0, 1]).range([19, 81]);
var labelSize = d3.scaleLinear().domain([0, 1]).range([22, 84]);

var sorted = nodes.slice().sort(function(a, b) { return (a.n - b.n) || (a.order - b.order); });

var plot = svg.append("g").classed("plot", true);

var elems = plot.selectAll("g.elem")
  .data(sorted)
  .enter()
  .append("g")
  .classed("elem", true);

elems.filter(function(d) { return d.parent && byId.has(d.parent); })
  .append("line")
  .attr("x1", function(d) { return xScale(byId.get(d.parent).x); })
  .attr("y1", function(d) { return yScale(byId.get(d.parent).y); })
  .attr("x2", function(d) { return xScale(d.x); })
  .attr("y2", function(d) { return yScale(d.y); })
  .attr("stroke", function(d) { return colorScale(tScale(d.n)); })
  .attr("stroke-width", function(d) { return edgeWidth(tScale(d.n)); });

elems.append("circle")
  .attr("cx", function(d) { return xScale(d.x); })
  .attr("cy", function(d) { return yScale(d.y); })
  .attr("r", function(d) { return radius(tScale(d.n)); })
  .attr("fill", function(d) { return colorScale(tScale(d.n)); });

plot.append("g").classed("labels", true)
  .selectAll("text")
  .data(sorted.filter(function(d) { return d.label; }))
  .enter()
  .append("text")
  .attr("x", function(d) { return xScale(d.x); })
  .attr("y", function(d) { return yScale(d.y); })
  .attr("text-anchor", "middle")
  .attr("dominant-baseline", "central")
  .attr("font-size", function(d) { return labelSize(tScale(d.n)); })
  .attr("fill", "#000000")
  .text(function(d) { return d.label; });

// legend
var legendY = d3.scaleLinear().domain([0, 1]).range([3010, 4128]);
var legend = svg.append("g").classed("legend", true);

var grad = svg.append("defs").append("linearGradient")
  .attr("id", "nodeGrad")
  .attr("x1", 0).attr("y1", 0).attr("x2", 0).attr("y2", 1);
grad.selectAll("stop")
  .data(d3.range(0, 1.0001, 0.05))
  .enter()
  .append("stop")
  .attr("offset", function(d) { return d; })
  .attr("stop-color", function(d) { return colorScale(d); });

var barLeft = 3916, barTopRight = 3954, barBottomRight = 4070;
legend.append("path")
  .attr("d", "M" + barLeft + "," + legendY(0) +
             "L" + barTopRight + "," + legendY(0) +
             "L" + barBottomRight + "," + legendY(1) +
             "L" + barLeft + "," + legendY(1) + "Z")
  .attr("fill", "url(#nodeGrad)");

legend.selectAll("text.tick")
  .data(legendTicks)
  .enter()
  .append("text")
  .classed("tick", true)
  .attr("x", 3898)
  .attr("y", function(d) { return legendY(tScale(d)); })
  .attr("text-anchor", "end")
  .attr("dominant-baseline", "central")
  .attr("font-size", 62)
  .attr("fill", "#000000")
  .text(function(d) { return d.toFixed(1); });

legend.append("text")
  .attr("x", 4012)
  .attr("y", 2925)
  .attr("text-anchor", "middle")
  .attr("font-size", 76)
  .attr("fill", "#000000")
  .text(legendTitle);

legend.append("text")
  .attr("transform", "translate(3718,3563) rotate(-90)")
  .attr("text-anchor", "middle")
  .attr("font-size", 76)
  .attr("fill", "#000000")
  .text(legendAxisTitle);

var missing = nodes.filter(function(d) { return d.parent && !byId.has(d.parent); });
if (missing.length) console.log("missing parents", missing.map(function(d) { return d.id; }));
</script>
</body>
</html>
